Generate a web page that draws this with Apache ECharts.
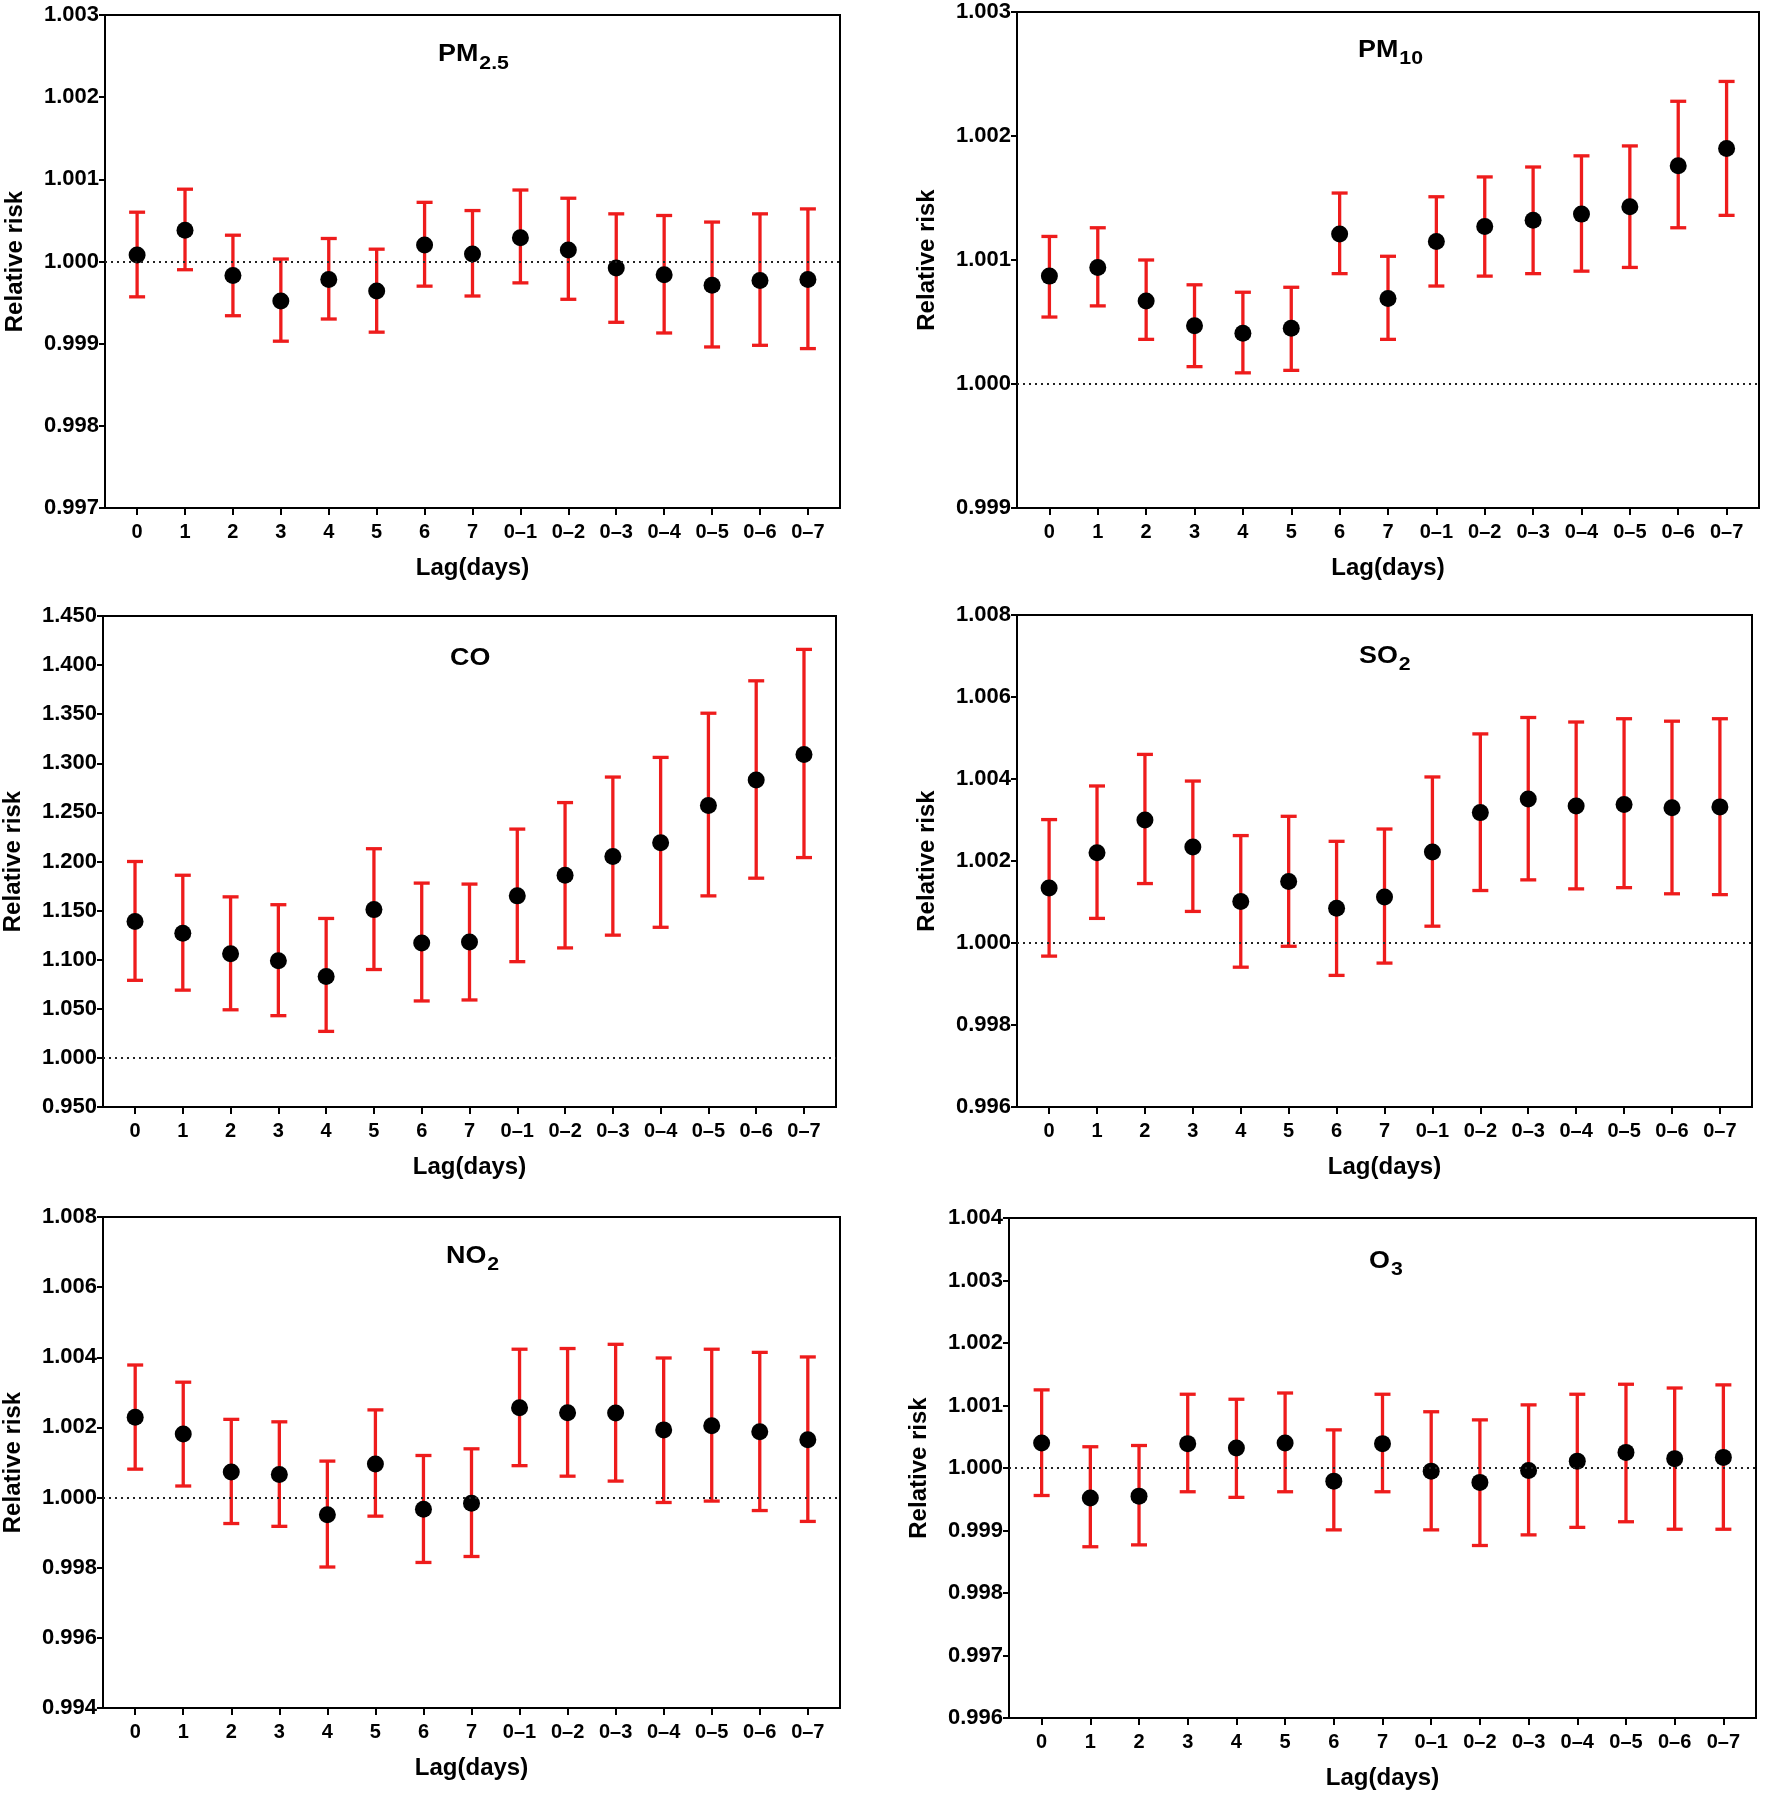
<!DOCTYPE html>
<html>
<head>
<meta charset="utf-8">
<script src="https://cdn.jsdelivr.net/npm/echarts@6/dist/echarts.min.js"></script>
<style>
html,body{margin:0;padding:0;background:#fff;}
#chart{width:1768px;height:1797px;}
</style>
</head>
<body>
<div id="chart"></div>
<script>
// ---- Data ----
const lags = ['0','1','2','3','4','5','6','7','0–1','0–2','0–3','0–4','0–5','0–6','0–7'];

const pm25_rr = [1.00008,1.00038,0.99983,0.99952,0.99978,0.99964,1.00020,1.00009,1.00029,1.00014,0.99992,0.99984,0.99971,0.99977,0.99978];
const pm25_lo = [0.99957,0.99990,0.99934,0.99903,0.99930,0.99914,0.99970,0.99958,0.99974,0.99954,0.99926,0.99913,0.99896,0.99898,0.99894];
const pm25_hi = [1.00060,1.00088,1.00032,1.00003,1.00028,1.00015,1.00072,1.00062,1.00087,1.00077,1.00058,1.00056,1.00048,1.00058,1.00064];

const pm10_rr = [1.00087,1.00094,1.00067,1.00047,1.00041,1.00045,1.00121,1.00069,1.00115,1.00127,1.00132,1.00137,1.00143,1.00176,1.00190];
const pm10_lo = [1.00054,1.00063,1.00036,1.00014,1.00009,1.00011,1.00089,1.00036,1.00079,1.00087,1.00089,1.00091,1.00094,1.00126,1.00136];
const pm10_hi = [1.00119,1.00126,1.00100,1.00080,1.00074,1.00078,1.00154,1.00103,1.00151,1.00167,1.00175,1.00184,1.00192,1.00228,1.00244];

const co_rr = [1.139,1.127,1.106,1.099,1.083,1.151,1.117,1.118,1.165,1.186,1.205,1.219,1.257,1.283,1.309];
const co_lo = [1.079,1.069,1.049,1.043,1.027,1.090,1.058,1.059,1.098,1.112,1.125,1.133,1.165,1.183,1.204];
const co_hi = [1.200,1.186,1.164,1.156,1.142,1.213,1.178,1.177,1.233,1.260,1.286,1.306,1.351,1.384,1.416];

const so2_rr = [1.00134,1.00220,1.00300,1.00234,1.00101,1.00150,1.00085,1.00112,1.00222,1.00318,1.00351,1.00334,1.00338,1.00330,1.00332];
const so2_lo = [0.99968,1.00060,1.00145,1.00077,0.99941,0.99992,0.99921,0.99951,1.00041,1.00128,1.00154,1.00132,1.00135,1.00120,1.00118];
const so2_hi = [1.00301,1.00383,1.00460,1.00395,1.00262,1.00309,1.00248,1.00278,1.00405,1.00510,1.00550,1.00539,1.00547,1.00541,1.00547];

const no2_rr = [1.00229,1.00181,1.00073,1.00066,0.99951,1.00096,0.99967,0.99984,1.00256,1.00242,1.00241,1.00193,1.00205,1.00188,1.00165];
const no2_lo = [1.00081,1.00033,0.99926,0.99918,0.99802,0.99947,0.99815,0.99832,1.00091,1.00061,1.00047,0.99986,0.99990,0.99963,0.99932];
const no2_hi = [1.00378,1.00329,1.00223,1.00216,1.00104,1.00250,1.00120,1.00139,1.00423,1.00425,1.00437,1.00398,1.00423,1.00414,1.00401];

const o3_rr = [1.00040,0.99952,0.99955,1.00039,1.00032,1.00040,0.99979,1.00039,0.99995,0.99977,0.99996,1.00011,1.00025,1.00015,1.00017];
const o3_lo = [0.99956,0.99874,0.99877,0.99962,0.99953,0.99962,0.99901,0.99962,0.99901,0.99876,0.99893,0.99905,0.99914,0.99902,0.99902];
const o3_hi = [1.00125,1.00034,1.00036,1.00118,1.00110,1.00120,1.00061,1.00118,1.00090,1.00077,1.00101,1.00118,1.00134,1.00128,1.00133];

// y-axis ranges [min, max, interval]
const pm25_axis = [0.997, 1.003, 0.001];
const pm10_axis = [0.999, 1.003, 0.001];
const co_axis   = [0.95, 1.45, 0.05];
const so2_axis  = [0.996, 1.008, 0.002];
const no2_axis  = [0.994, 1.008, 0.002];
const o3_axis   = [0.996, 1.004, 0.001];

// panel titles: [main, subscript]
const pm25_title = ['PM', '2.5'];
const pm10_title = ['PM', '10'];
const co_title   = ['CO', ''];
const so2_title  = ['SO', '2'];
const no2_title  = ['NO', '2'];
const o3_title   = ['O', '3'];

// ---- Layout / style ----
const FONT = "'Liberation Sans', Arial, Helvetica, sans-serif";
const RED = '#ee1c1c';
const MAIN_FS = 24, SUB_FS = 19, TSCALE = 1.12;

// t: [main left x, main baseline y, subscript baseline y]
const panels = [
  {title:pm25_title, rr:pm25_rr, lo:pm25_lo, hi:pm25_hi, axis:pm25_axis, grid:[105,15,735,493],  t:[438,63,70]},
  {title:pm10_title, rr:pm10_rr, lo:pm10_lo, hi:pm10_hi, axis:pm10_axis, grid:[1017,12,742,496], t:[1358,59,65]},
  {title:co_title,   rr:co_rr,   lo:co_lo,   hi:co_hi,   axis:co_axis,   grid:[101,616,735,491], t:[450,667,0]},
  {title:so2_title,  rr:so2_rr,  lo:so2_lo,  hi:so2_hi,  axis:so2_axis,  grid:[1017,615,735,492], t:[1359,665,671]},
  {title:no2_title,  rr:no2_rr,  lo:no2_lo,  hi:no2_hi,  axis:no2_axis,  grid:[103,1217,737,491], t:[446,1265,1271]},
  {title:o3_title,   rr:o3_rr,   lo:o3_lo,   hi:o3_hi,   axis:o3_axis,   grid:[1009,1218,747,500], t:[1369,1270,1276]}
];

const measureCtx = document.createElement('canvas').getContext('2d');
function textWidth(txt, fs) {
  measureCtx.font = 'bold ' + fs + 'px ' + FONT;
  return measureCtx.measureText(txt).width;
}

const idx = lags.map((_, i) => i);
const grids = [], xAxes = [], yAxes = [], series = [], graphics = [];

function renderErr(params, api) {
  const x = api.value(0), lo = api.value(1), hi = api.value(2);
  const pLo = api.coord([x, lo]);
  const pHi = api.coord([x, hi]);
  const hw = 8;
  const st = {stroke:RED, lineWidth:3.3};
  return {
    type: 'group',
    children: [
      {type:'line', shape:{x1:pLo[0], y1:pLo[1], x2:pHi[0], y2:pHi[1]}, style:st},
      {type:'line', shape:{x1:pHi[0]-hw, y1:pHi[1], x2:pHi[0]+hw, y2:pHi[1]}, style:st},
      {type:'line', shape:{x1:pLo[0]-hw, y1:pLo[1], x2:pLo[0]+hw, y2:pLo[1]}, style:st}
    ]
  };
}

panels.forEach((p, k) => {
  grids.push({left:p.grid[0], top:p.grid[1], width:p.grid[2], height:p.grid[3],
    show:true, borderColor:'#000', borderWidth:2, backgroundColor:'transparent', containLabel:false});
  xAxes.push({
    gridIndex:k, type:'value', min:-0.67, max:14.67,
    name:'Lag(days)', nameLocation:'middle', nameGap:48,
    nameTextStyle:{fontFamily:FONT, fontWeight:'bold', fontSize:24, color:'#000'},
    axisLine:{show:true, onZero:false, lineStyle:{color:'#000', width:2}},
    axisTick:{show:true, customValues:idx, length:7, lineStyle:{color:'#000', width:2}},
    axisLabel:{show:true, customValues:idx, margin:14, fontFamily:FONT, fontWeight:'bold', fontSize:20, color:'#000',
      formatter:(v) => lags[Math.round(v)]},
    splitLine:{show:false}
  });
  yAxes.push({
    gridIndex:k, type:'value', min:p.axis[0], max:p.axis[1], interval:p.axis[2],
    name:'Relative risk', nameLocation:'middle', nameGap:78, nameRotate:90,
    nameTextStyle:{fontFamily:FONT, fontWeight:'bold', fontSize:24, color:'#000'},
    axisLine:{show:true, onZero:false, lineStyle:{color:'#000', width:2}},
    axisTick:{show:true, length:6, lineStyle:{color:'#000', width:2}},
    axisLabel:{margin:6, fontFamily:FONT, fontWeight:'bold', fontSize:22, color:'#000',
      formatter:(v) => v.toFixed(3)},
    splitLine:{show:false}
  });
  // panel title (main text + subscript)
  graphics.push({type:'text', x:p.t[0], y:p.t[1] - 0.347*MAIN_FS, scaleX:TSCALE, silent:true,
    style:{text:p.title[0], font:'bold ' + MAIN_FS + 'px ' + FONT, fill:'#000', align:'left', verticalAlign:'middle'}});
  if (p.title[1]) {
    const subX = p.t[0] + textWidth(p.title[0], MAIN_FS) * TSCALE + 1;
    graphics.push({type:'text', x:subX, y:p.t[2] - 0.347*SUB_FS, scaleX:TSCALE, silent:true,
      style:{text:p.title[1], font:'bold ' + SUB_FS + 'px ' + FONT, fill:'#000', align:'left', verticalAlign:'middle'}});
  }
  series.push({
    type:'custom', xAxisIndex:k, yAxisIndex:k, renderItem:renderErr,
    encode:{x:0, y:[1,2]}, z:2,
    data: idx.map(i => [i, p.lo[i], p.hi[i]]),
    markLine:{silent:true, symbol:'none', label:{show:false},
      lineStyle:{color:'#222', type:[2,4], width:2}, data:[{yAxis:1}]}
  });
  series.push({
    type:'scatter', xAxisIndex:k, yAxisIndex:k, symbol:'circle', symbolSize:17, z:3,
    itemStyle:{color:'#000', opacity:1},
    data: idx.map(i => [i, p.rr[i]])
  });
});

const chart = echarts.init(document.getElementById('chart'), null, {renderer:'canvas'});
chart.setOption({
  animation:false,
  backgroundColor:'#fff',
  grid:grids, xAxis:xAxes, yAxis:yAxes, series:series, graphic:graphics
});
</script>
</body>
</html>
